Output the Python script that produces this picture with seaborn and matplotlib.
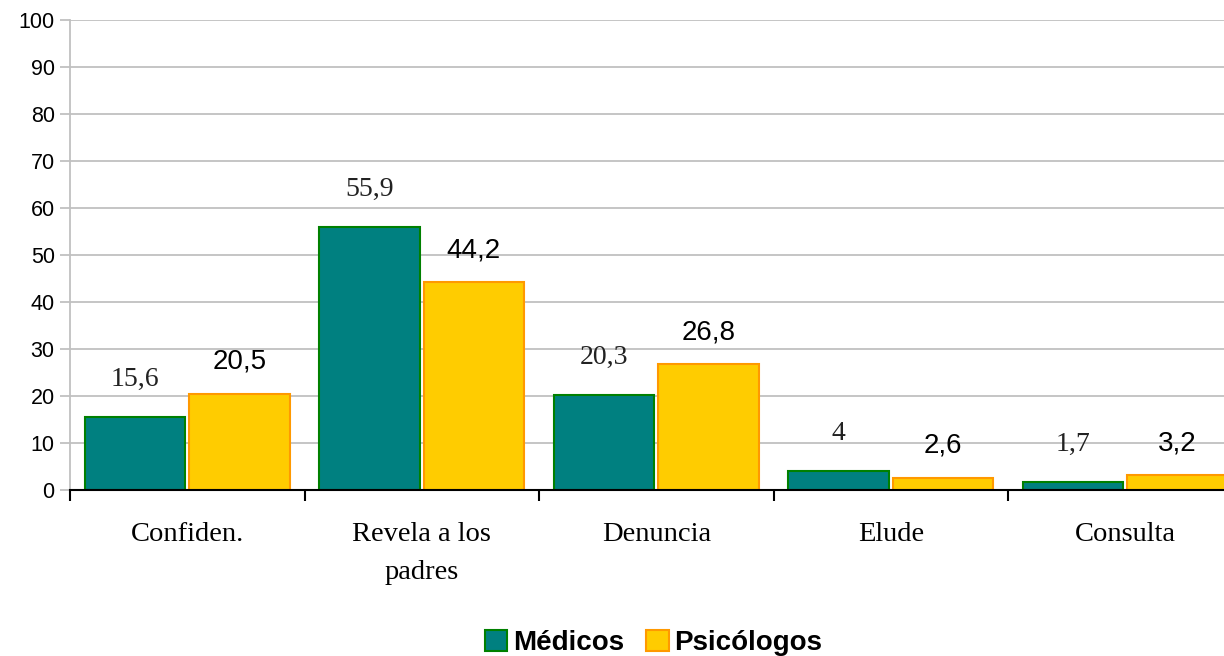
import matplotlib
matplotlib.use("Agg")
import matplotlib.pyplot as plt
import seaborn as sns
import pandas as pd
import numpy as np
from matplotlib.patches import Patch

categories = ["Confiden.", "Revela a los\npadres", "Denuncia", "Elude", "Consulta"]
medicos = [15.6, 55.9, 20.3, 4, 1.7]
psicologos = [20.5, 44.2, 26.8, 2.6, 3.2]
medicos_labels = ["15,6", "55,9", "20,3", "4", "1,7"]
psicologos_labels = ["20,5", "44,2", "26,8", "2,6", "3,2"]
series = ["Médicos", "Psicólogos"]
yticks = list(range(0, 101, 10))

fill = {"Médicos": "#008080", "Psicólogos": "#FFCC00"}
edge = {"Médicos": "#008000", "Psicólogos": "#FF9900"}

df = pd.DataFrame({
    "cat": categories * 2,
    "val": medicos + psicologos,
    "serie": [series[0]] * 5 + [series[1]] * 5,
})

sns.set_style("white")
plt.rcParams["font.family"] = ["Liberation Sans", "DejaVu Sans"]
plt.rcParams["text.color"] = "black"
plt.rcParams["xtick.labelcolor"] = "black"
plt.rcParams["ytick.labelcolor"] = "black"

fig = plt.figure(figsize=(12.24, 6.56), dpi=100)
ax = fig.add_axes([70 / 1224, 166 / 656, 1172.5 / 1224, 470 / 656])

sns.barplot(data=df, x="cat", y="val", hue="serie", order=categories,
            hue_order=series, palette=fill, saturation=1, width=0.89, gap=0.04,
            ax=ax, legend=False, zorder=3)

for i, cont in enumerate(ax.containers):
    s = series[i]
    for bar in cont:
        bar.set_edgecolor(edge[s])
        bar.set_linewidth(1.5)
    labels = medicos_labels if i == 0 else psicologos_labels
    for bar, lab in zip(cont, labels):
        x = bar.get_x() + bar.get_width() / 2
        y = bar.get_height()
        if i == 0:
            ax.annotate(lab, (x, y), xytext=(0, 27), textcoords="offset points",
                        ha="center", va="center", fontsize=20,
                        family="Liberation Serif", color="#222222")
        else:
            ax.annotate(lab, (x, y), xytext=(0, 23), textcoords="offset points",
                        ha="center", va="center", fontsize=20,
                        family="Liberation Sans", color="black")

ax.set_ylim(0, 100)
ax.set_xlim(-0.5, 4.5)
ax.set_yticks(yticks)
ax.set_yticklabels([str(t) for t in yticks], fontsize=15.5, color="black")
ax.yaxis.grid(True, color="#C0C0C0", linewidth=1.3, zorder=0)
ax.set_axisbelow(True)
ax.tick_params(axis="y", which="major", length=7, color="#C0C0C0", width=1.3, pad=4, left=True)

ax.set_xticks(range(len(categories)))
ax.set_xticklabels(categories, fontsize=20.5, family="Liberation Serif", linespacing=1.7,
                   color="black")
ax.tick_params(axis="x", which="major", length=0, pad=23)
ax.set_xticks(np.arange(-0.5, 5.0, 1.0), minor=True)
ax.tick_params(axis="x", which="minor", length=8, width=1.5, color="black", bottom=True)
for lab in ax.get_xticklabels():
    lab.set_verticalalignment("top")

ax.set_xlabel("")
ax.set_ylabel("")
for sp in ["top", "right"]:
    ax.spines[sp].set_visible(False)
ax.spines["left"].set_color("#C0C0C0")
ax.spines["left"].set_linewidth(1.3)
ax.spines["bottom"].set_color("black")
ax.spines["bottom"].set_linewidth(1.5)
ax.spines["bottom"].set_zorder(5)

handles = [Patch(facecolor=fill[s], edgecolor=edge[s], linewidth=1.5, label=s) for s in series]
leg = fig.legend(handles=handles, loc="center", bbox_to_anchor=(0.534, 0.02), ncol=2,
                 frameon=False, prop={"family": "Liberation Sans", "weight": "bold", "size": 20},
                 handlelength=0.8, handleheight=0.8, handletextpad=0.2, columnspacing=0.8,
                 labelcolor="black")

fig.savefig("out.png", dpi=100)
